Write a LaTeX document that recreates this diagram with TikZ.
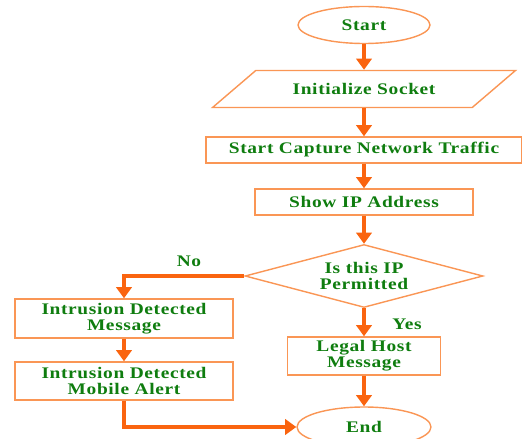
\documentclass[tikz,border=0pt]{standalone}
\usepackage{fontspec}
\setmainfont{Liberation Serif}[FakeStretch=1.2,LetterSpace=4]
\usepackage{xcolor}
\usetikzlibrary{shapes.geometric,arrows.meta}
\definecolor{edgeorange}{RGB}{250,150,85}
\definecolor{arroworange}{RGB}{250,100,15}
\definecolor{textgreen}{RGB}{15,125,15}

\begin{document}
\begin{tikzpicture}[
        box/.style={draw=edgeorange,line width=1pt,fill=white,align=center,
            text=textgreen,font=\fontsize{11.5}{11.5}\selectfont\bfseries,inner sep=1pt},
        terminal/.style={box,ellipse},
        flow/.style={draw=arroworange,line width=2.6pt,
            -{Triangle[width=11pt,length=8pt]}},
        answer/.style={text=textgreen,font=\fontsize{11.5}{11.5}\selectfont\bfseries}
    ]
            \useasboundingbox (0,0) rectangle (13.05,-10.975);
            \node[terminal,minimum width=3.3cm,minimum height=0.925cm] (start) at (9.1,-0.625) {Start};
            \node[box,trapezium,trapezium left angle=26,trapezium right angle=154,
                trapezium stretches=true,minimum width=7.575cm,minimum height=0.925cm] (init) at (9.1,-2.225) {Initialize Socket};
            \node[box,minimum width=7.9cm,minimum height=0.65cm] (capture) at (9.1,-3.75) {Start Capture Network Traffic};
            \node[box,minimum width=5.45cm,minimum height=0.65cm] (showip) at (9.1,-5.05) {Show IP Address};
            \node[box,diamond,aspect=3.78,minimum width=5.95cm,minimum height=1.575cm] (check) at (9.1,-6.9) {Is this IP\\Permitted};
            \node[box,minimum width=5.45cm,minimum height=0.975cm] (intrmsg) at (3.1,-7.9625) {Intrusion Detected\\Message};
            \node[box,minimum width=5.45cm,minimum height=0.95cm] (intralert) at (3.1,-9.525) {Intrusion Detected\\Mobile Alert};
            \node[box,minimum width=3.825cm,minimum height=0.95cm] (legal) at (9.1,-8.9) {Legal Host\\Message};
            \node[terminal,minimum width=3.35cm,minimum height=1cm] (end) at (9.1,-10.675) {End};
            \node[answer] (no) at (4.725,-6.525) {No};
            \node[answer] (yes) at (10.175,-8.1) {Yes};

            \draw[flow] (start) -- (init);
            \draw[flow] (init) -- (capture);
            \draw[flow] (capture) -- (showip);
            \draw[flow] (showip) -- (check);
            \draw[flow] (check.west) -| (intrmsg.north);
            \draw[flow] (intrmsg) -- (intralert);
            \draw[flow] (check) -- (legal);
            \draw[flow] (legal) -- (end);
            \draw[flow] (intralert.south) |- (end.west);
        \end{tikzpicture}
\end{document}
